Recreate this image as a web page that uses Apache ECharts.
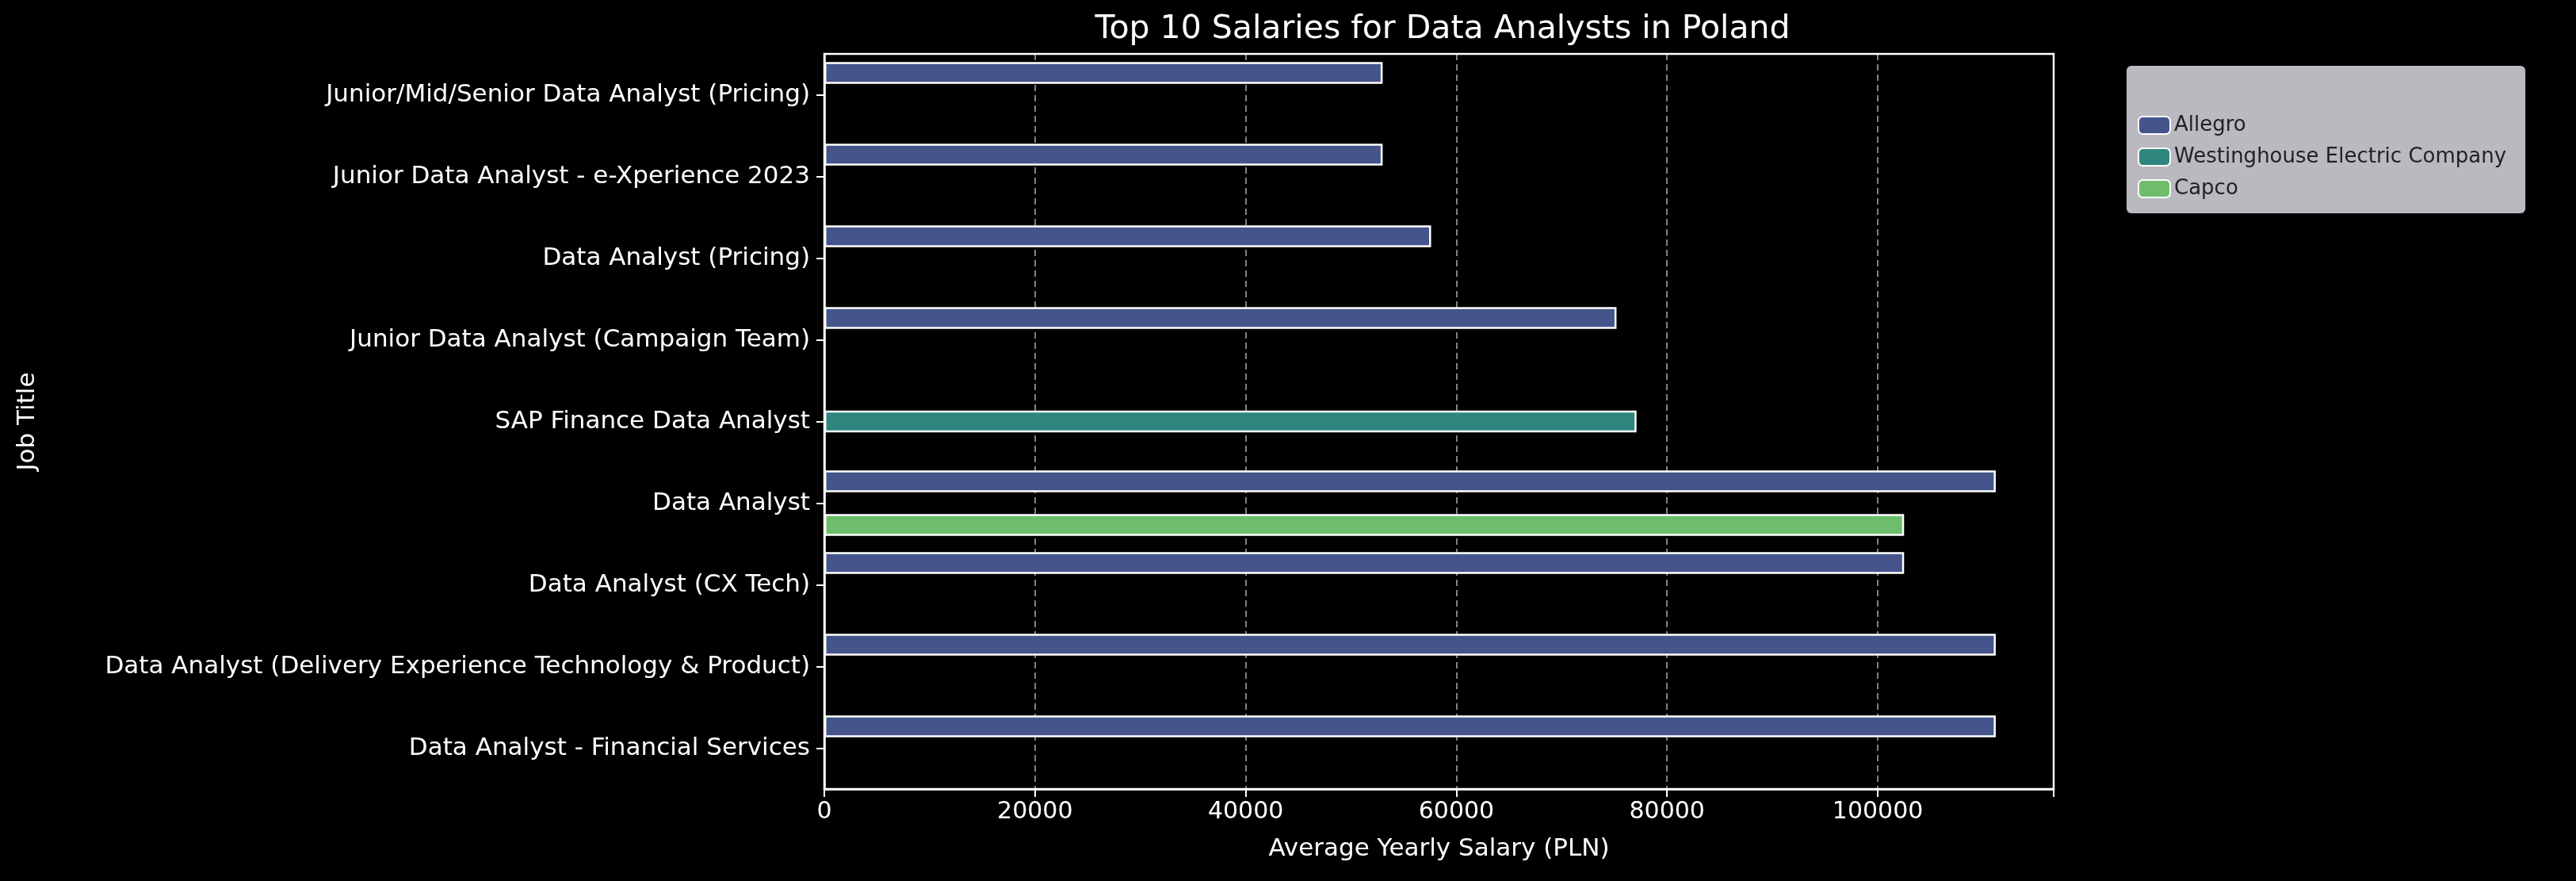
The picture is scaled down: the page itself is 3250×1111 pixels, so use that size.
<!DOCTYPE html>
<html lang="en">
<head>
	<meta charset="UTF-8">
	<title>Top 10 Salaries</title>
	<style>
		* { margin: 0; padding: 0; }
		body { background: #000; }
		#box { width: 3250px; height: 1111px; }
	</style>
	<script src="https://cdn.jsdelivr.net/npm/echarts@6/dist/echarts.min.js"></script>
</head>
<body>
<div id="box"></div>
<script>
	// 数据
	const jobTitles = [
		'Junior/Mid/Senior Data Analyst (Pricing)',
		'Junior Data Analyst - e-Xperience 2023',
		'Data Analyst (Pricing)',
		'Junior Data Analyst (Campaign Team)',
		'SAP Finance Data Analyst',
		'Data Analyst',
		'Data Analyst (CX Tech)',
		'Data Analyst (Delivery Experience Technology & Product)',
		'Data Analyst - Financial Services'
	];
	const companies = ['Allegro', 'Westinghouse Electric Company', 'Capco'];
	const allegro = [53000, 53000, 57600, 75200, null, 111200, 102500, 111200, 111200];
	const westinghouse = [null, null, null, null, 77100, null, null, null, null];
	const capco = [null, null, null, null, null, 102500, null, null, null];
	const xTicks = [0, 20000, 40000, 60000, 80000, 100000];

	const colors = ['#45548a', '#2e867e', '#6dbd6d'];
	const font = 'DejaVu Sans';
	const myEcharts = echarts.init(document.getElementById('box'));

	const makeSeries = (name, data, i) => ({
		name: name,
		type: 'bar',
		data: data,
		barGap: '0%',
		barCategoryGap: '20%',
		itemStyle: { color: colors[i], borderColor: '#ffffff', borderWidth: 2.5 }
	});

	myEcharts.setOption({
		backgroundColor: '#000000',
		textStyle: { fontFamily: font },
		title: {
			text: 'Top 10 Salaries for Data Analysts in Poland',
			left: 1815, top: 12, textAlign: 'center',
			textStyle: { color: '#fff', fontSize: 41, fontWeight: 'normal', fontFamily: font }
		},
		grid: { left: 1040, right: 659, top: 68, bottom: 116, containLabel: false },
		legend: {
			data: companies,
			orient: 'vertical',
			left: 2683, top: 83,
			padding: [62, 24, 18, 14],
			itemGap: 14,
			itemWidth: 40, itemHeight: 22,
			backgroundColor: '#b9b9bf',
			borderRadius: 6,
			textStyle: { color: '#222', fontSize: 26, fontFamily: font }
		},
		graphic: [{
			type: 'text', left: 2838, top: 95,
			style: { text: 'Company', fill: '#222', font: '26px "DejaVu Sans"', textAlign: 'center' }
		}],
		xAxis: {
			type: 'value', min: 0, max: 116700, interval: 20000,
			name: 'Average Yearly Salary (PLN)', nameLocation: 'middle', nameGap: 60,
			nameTextStyle: { color: '#fff', fontSize: 31 },
			axisLine: { show: true, lineStyle: { color: '#fff', width: 2.5 } },
			axisTick: { show: true, length: 10, lineStyle: { color: '#fff', width: 2 } },
			axisLabel: {
				color: '#fff', fontSize: 30, margin: 14,
				formatter: v => xTicks.includes(v) ? String(v) : ''
			},
			splitLine: { show: true, lineStyle: { color: '#aaaaaa', type: [8, 5], width: 1.5 } }
		},
		yAxis: {
			type: 'category', data: jobTitles, inverse: true,
			name: 'Job Title', nameLocation: 'middle', nameGap: 990, nameRotate: 90,
			nameTextStyle: { color: '#fff', fontSize: 31 },
			axisLine: { show: true, lineStyle: { color: '#fff', width: 2.5 } },
			axisTick: { show: true, alignWithLabel: true, length: 10, lineStyle: { color: '#fff', width: 2 } },
			axisLabel: { color: '#fff', fontSize: 31, margin: 18 },
			splitLine: { show: false }
		},
		series: [
			makeSeries(companies[0], allegro, 0),
			makeSeries(companies[1], westinghouse, 1),
			makeSeries(companies[2], capco, 2),
			// 上/右边框
			{
				type: 'line', data: [], markLine: undefined
			}
		]
	});
	// 右/上边框
	const r = myEcharts.getModel().getComponent('grid').coordinateSystem.getRect();
	myEcharts.setOption({
		graphic: [{
			type: 'text', left: 2838, top: 95,
			style: { text: 'Company', fill: '#222', font: '26px "DejaVu Sans"', textAlign: 'center' }
		}, {
			type: 'rect', shape: { x: r.x, y: r.y, width: r.width, height: r.height },
			style: { fill: 'none', stroke: '#fff', lineWidth: 2.5 }, silent: true, z: 100
		}]
	});
</script>
</body>
</html>
